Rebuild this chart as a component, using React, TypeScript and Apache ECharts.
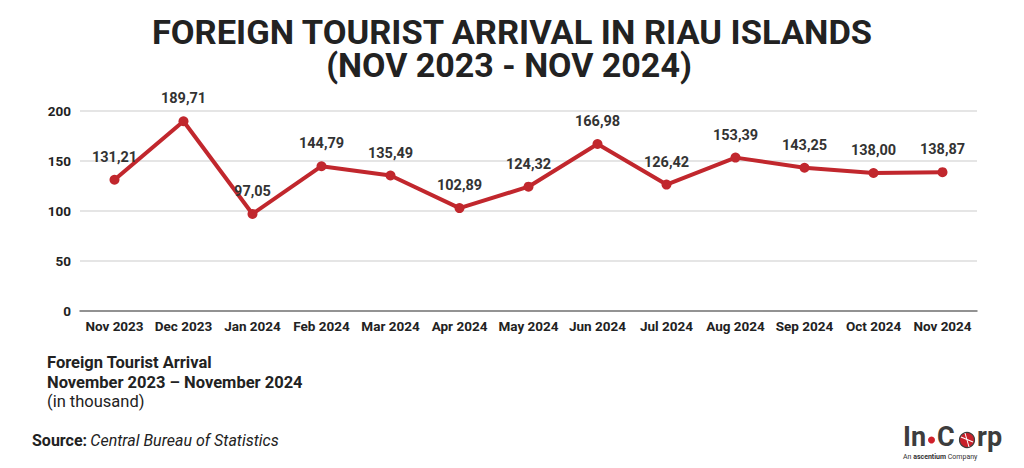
import React, { useEffect, useRef } from "react";
import * as echarts from "echarts";

const categories = [
  "Nov 2023", "Dec 2023", "Jan 2024", "Feb 2024", "Mar 2024", "Apr 2024", "May 2024",
  "Jun 2024", "Jul 2024", "Aug 2024", "Sep 2024", "Oct 2024", "Nov 2024",
];
const arrivals = [131.21, 189.71, 97.05, 144.79, 135.49, 102.89, 124.32, 166.98, 126.42, 153.39, 143.25, 138.0, 138.87];
const yTicks = [0, 50, 100, 150, 200];

const titleLines = ["FOREIGN TOURIST ARRIVAL IN RIAU ISLANDS", "(NOV 2023 - NOV 2024)"];

export default function App() {
  const ref = useRef<HTMLDivElement>(null);
  useEffect(() => {
    if (!ref.current) return;
    const chart = echarts.init(ref.current, null, { renderer: "svg" });
    const titleStyle = (text: string) => ({
      text,
      x: 0,
      y: 0,
      align: "center",
      verticalAlign: "middle",
      font: "bold 34px Roboto",
      fill: "#222222",
    });
    const logoStyle = (text: string) => ({
      text,
      x: 0,
      y: 0,
      align: "left",
      verticalAlign: "middle",
      font: "bold 27px Roboto",
      fill: "#3d3d3d",
    });
    chart.setOption({
      animation: false,
      backgroundColor: "#ffffff",
      textStyle: { fontFamily: "Roboto, sans-serif" },
      grid: { left: 80, right: 47, top: 111, bottom: 157 },
      xAxis: {
        type: "category",
        data: categories,
        boundaryGap: true,
        axisLine: { lineStyle: { color: "#777777", width: 1.5 } },
        axisTick: { show: false },
        axisLabel: { color: "#222222", fontWeight: "bold", fontSize: 13.5, margin: 8, interval: 0 },
      },
      yAxis: {
        type: "value",
        min: yTicks[0],
        max: yTicks[yTicks.length - 1],
        interval: 50,
        axisLine: { show: false },
        axisTick: { show: false },
        axisLabel: { color: "#222222", fontWeight: "bold", fontSize: 13.5, margin: 9 },
        splitLine: { lineStyle: { color: "#dddddd", width: 1.5 } },
      },
      series: [
        {
          type: "line",
          data: arrivals,
          symbol: "circle",
          symbolSize: 10,
          lineStyle: { color: "#c1272d", width: 4 },
          itemStyle: { color: "#c1272d" },
          label: {
            show: true,
            position: "top",
            distance: 10,
            color: "#333333",
            fontWeight: "bold",
            fontSize: 14.5,
            formatter: (p: any) => Number(p.value).toFixed(2).replace(".", ","),
          },
        },
      ],
      graphic: [
        { type: "text", x: 512, y: 32, scaleX: 1.015, style: titleStyle(titleLines[0]) },
        { type: "text", x: 509, y: 65, style: titleStyle(titleLines[1]) },
        {
          type: "text",
          left: 47,
          top: 354,
          style: { text: "Foreign Tourist Arrival", font: "bold 16.5px Roboto", fill: "#222222" },
        },
        {
          type: "text",
          left: 47,
          top: 374,
          style: { text: "November 2023 – November 2024", font: "bold 16.5px Roboto", fill: "#222222" },
        },
        {
          type: "text",
          left: 47,
          top: 393,
          style: { text: "(in thousand)", font: "16.5px Roboto", fill: "#222222" },
        },
        {
          type: "text",
          left: 32,
          top: 432,
          style: {
            text: "{b|Source:} {i|Central Bureau of Statistics}",
            fill: "#222222",
            rich: {
              b: { fontFamily: "Roboto", fontWeight: "bold", fontSize: 16, fill: "#222222" },
              i: { fontFamily: "Roboto", fontStyle: "italic", fontSize: 16, fill: "#222222" },
            },
          },
        },
        { type: "text", x: 903, y: 437, style: logoStyle("In") },
        { type: "circle", shape: { cx: 931.5, cy: 440, r: 3.5 }, style: { fill: "#d0202a" } },
        { type: "text", x: 937, y: 437, style: logoStyle("C") },
        { type: "circle", shape: { cx: 967, cy: 440, r: 7.5 }, style: { fill: "#c8202a", stroke: "#3d3d3d", lineWidth: 1.2 } },
        { type: "line", shape: { x1: 961, y1: 437, x2: 973, y2: 442 }, style: { stroke: "#ffffff", lineWidth: 1.2 } },
        { type: "line", shape: { x1: 965, y1: 433, x2: 969, y2: 447 }, style: { stroke: "#ffffff", lineWidth: 1 } },
        { type: "text", x: 977, y: 437, style: logoStyle("rp") },
        {
          type: "text",
          left: 903,
          top: 453,
          style: {
            text: "{n|An }{b|ascentium}{n| Company}",
            rich: {
              n: { fontFamily: "Roboto", fontSize: 7, fill: "#333333" },
              b: { fontFamily: "Roboto", fontWeight: "bold", fontSize: 7, fill: "#333333" },
            },
          },
        },
      ],
    });
    return () => chart.dispose();
  }, []);
  return <div ref={ref} style={{ position: "fixed", left: 0, top: 0, width: 1024, height: 468 }} />;
}
